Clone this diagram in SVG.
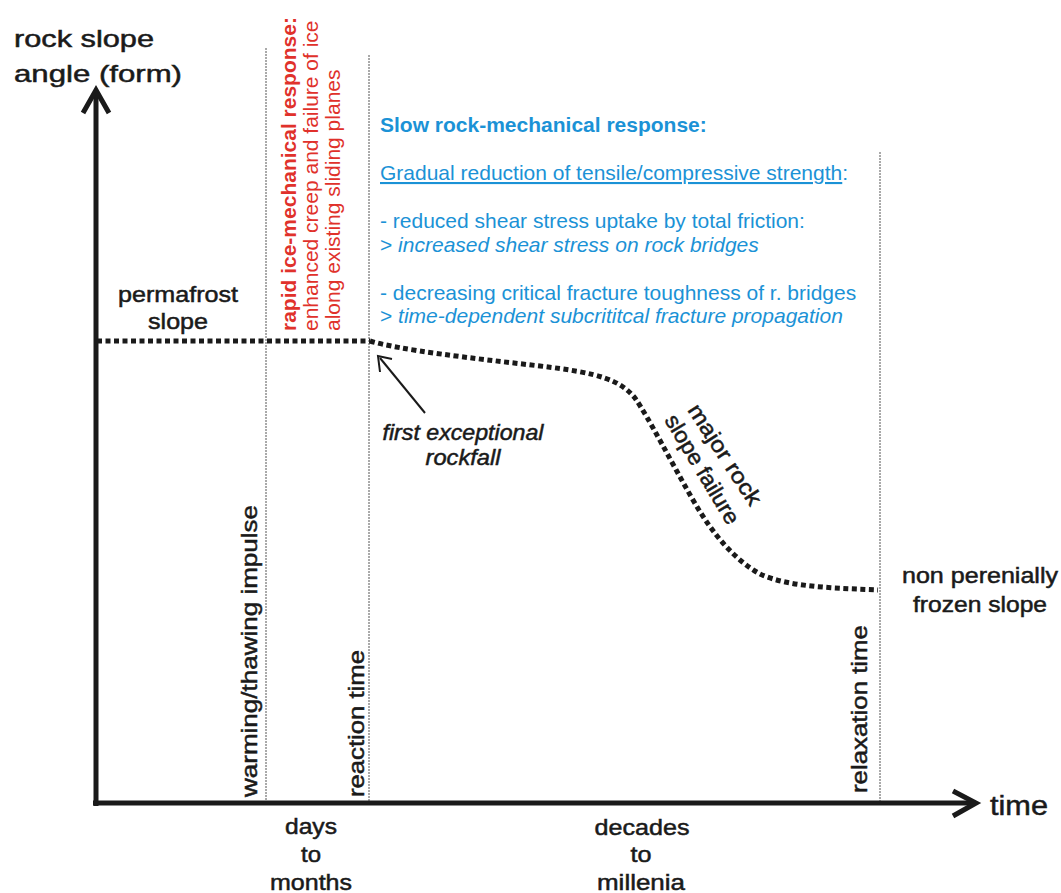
<svg xmlns="http://www.w3.org/2000/svg" width="1061" height="893" viewBox="0 0 1061 893">
<style>
.t{font-family:"Liberation Sans",Arial,sans-serif;fill:#1a1a1a;stroke:#1a1a1a;stroke-width:0.5}
.red{font-family:"Liberation Sans",Arial,sans-serif;fill:#e0312b;font-size:21px}
.blue{font-family:"Liberation Sans",Arial,sans-serif;fill:#1b92d6;font-size:21px}
.axis{stroke:#1a1a1a;stroke-width:5;fill:none}
.guide{stroke:#555;stroke-width:1;stroke-dasharray:2 1;fill:none}
.dots{stroke:#1a1a1a;stroke-width:5;stroke-dasharray:5 3.5;fill:none}
</style>
<rect width="1061" height="893" fill="#fff"/>
<g id="guides">
<line class="guide" x1="266" y1="48" x2="266" y2="801"/>
<line class="guide" x1="369" y1="55" x2="369" y2="801"/>
<line class="guide" x1="880" y1="152" x2="880" y2="801"/>
</g>
<g id="axes">
<line class="axis" x1="96" y1="806" x2="96" y2="91"/>
<polyline class="axis" points="83,113 96,90 109,113"/>
<line class="axis" x1="93" y1="803" x2="975" y2="803"/>
<polyline class="axis" points="953,791 976,803 953,816"/>
</g>
<g id="connectors">
<line class="dots" x1="97" y1="341" x2="370" y2="341"/>
<path class="dots" d="M370,341 C400,350 470,358 540,366 C600,373 620,380 635,398 C650,420 670,460 693,500 C713,535 735,560 760,574 C790,588 840,588 878,590"/>
<line x1="425" y1="413" x2="380" y2="358" stroke="#1a1a1a" stroke-width="2"/>
<polyline points="380,372 378,356 392,359" stroke="#1a1a1a" stroke-width="2" fill="none"/>
</g>
<g id="yaxis-label" class="t" font-size="24" stroke-width="0.9">
<text x="14" y="47" textLength="140" lengthAdjust="spacingAndGlyphs">rock slope</text>
<text x="14" y="82" textLength="168" lengthAdjust="spacingAndGlyphs">angle (form)</text>
</g>
<g id="permafrost" class="t" font-size="22">
<text x="178" y="302" text-anchor="middle" textLength="120" lengthAdjust="spacingAndGlyphs">permafrost</text>
<text x="178" y="329" text-anchor="middle" textLength="60" lengthAdjust="spacingAndGlyphs">slope</text>
</g>
<g id="rapid">
<text class="red" transform="translate(296,331) rotate(-90)"><tspan font-weight="bold">rapid ice-mechanical response:</tspan></text>
<text class="red" transform="translate(318,331) rotate(-90)">enhanced creep and failure of ice</text>
<text class="red" transform="translate(340,331) rotate(-90)">along existing sliding planes</text>
</g>
<g id="slow">
<text class="blue" x="380" y="132" font-weight="bold">Slow rock-mechanical response:</text>
<text class="blue" x="380" y="180"><tspan text-decoration="underline">Gradual reduction of tensile/compressive strength</tspan>:</text>
<text class="blue" x="380" y="228">- reduced shear stress uptake by total friction:</text>
<text class="blue" x="380" y="252">&gt; <tspan font-style="italic">increased shear stress on rock bridges</tspan></text>
<text class="blue" x="380" y="300">- decreasing critical fracture toughness of r. bridges</text>
<text class="blue" x="380" y="323">&gt; <tspan font-style="italic">time-dependent subcrititcal fracture propagation</tspan></text>
</g>
<g id="rockfall" class="t" font-size="22" font-style="italic">
<text x="463" y="440" text-anchor="middle" textLength="161" lengthAdjust="spacingAndGlyphs">first exceptional</text>
<text x="463" y="465" text-anchor="middle" textLength="75" lengthAdjust="spacingAndGlyphs">rockfall</text>
</g>
<g id="failure" class="t" font-size="22">
<text transform="translate(687,410) rotate(57)" textLength="116" lengthAdjust="spacingAndGlyphs">major rock</text>
<text transform="translate(664,420) rotate(59)" textLength="124" lengthAdjust="spacingAndGlyphs">slope failure</text>
</g>
<g id="impulse" class="t" font-size="22">
<text transform="translate(257,797) rotate(-90)" textLength="292" lengthAdjust="spacingAndGlyphs">warming/thawing impulse</text>
</g>
<g id="reaction" class="t" font-size="22">
<text transform="translate(364,797) rotate(-90)" textLength="147" lengthAdjust="spacingAndGlyphs">reaction time</text>
</g>
<g id="relaxation" class="t" font-size="22">
<text transform="translate(867,793) rotate(-90)" textLength="168" lengthAdjust="spacingAndGlyphs">relaxation time</text>
</g>
<g id="time" class="t" font-size="27">
<text x="990" y="815" textLength="58" lengthAdjust="spacingAndGlyphs">time</text>
</g>
<g id="nonperm" class="t" font-size="22">
<text x="980" y="583" text-anchor="middle" textLength="156" lengthAdjust="spacingAndGlyphs">non perenially</text>
<text x="980" y="612" text-anchor="middle" textLength="134" lengthAdjust="spacingAndGlyphs">frozen slope</text>
</g>
<g id="days" class="t" font-size="22">
<text x="311" y="834" text-anchor="middle" textLength="52" lengthAdjust="spacingAndGlyphs">days</text>
<text x="311" y="862" text-anchor="middle" textLength="20" lengthAdjust="spacingAndGlyphs">to</text>
<text x="311" y="890" text-anchor="middle" textLength="82" lengthAdjust="spacingAndGlyphs">months</text>
</g>
<g id="decades" class="t" font-size="22">
<text x="642" y="835" text-anchor="middle" textLength="95" lengthAdjust="spacingAndGlyphs">decades</text>
<text x="641" y="862" text-anchor="middle" textLength="21" lengthAdjust="spacingAndGlyphs">to</text>
<text x="641" y="890" text-anchor="middle" textLength="88" lengthAdjust="spacingAndGlyphs">millenia</text>
</g>
</svg>
